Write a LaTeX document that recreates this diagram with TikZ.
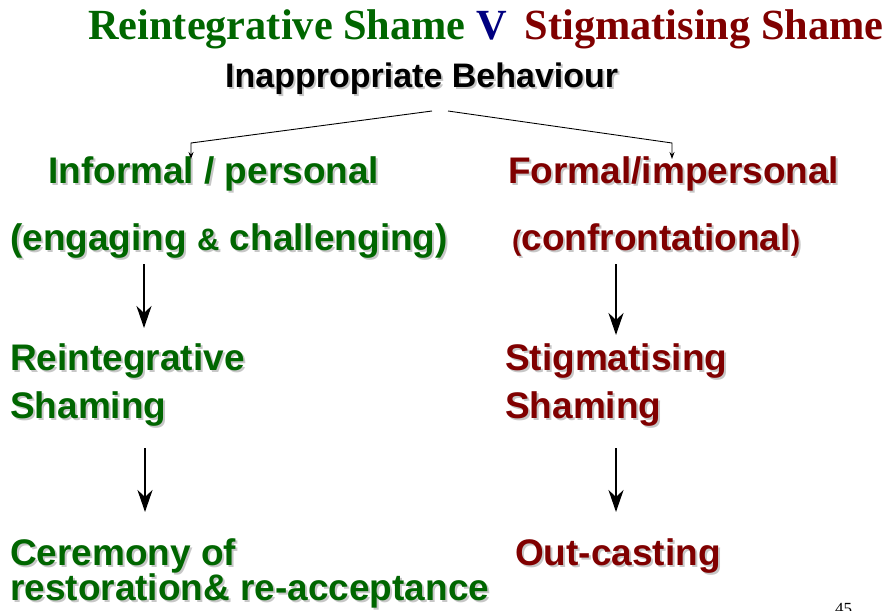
\documentclass[tikz,border=0pt]{standalone}
\usepackage{fontspec}
\setmainfont{Liberation Sans}
\newfontfamily\serifttl{Liberation Serif}
\usetikzlibrary{arrows.meta}
\definecolor{grn}{RGB}{0,102,0}
\definecolor{dred}{RGB}{128,0,0}
\definecolor{nvy}{RGB}{0,0,128}
\newcommand{\shd}[1]{\makebox[0pt][l]{\color{black!22}\hspace{2pt}\raisebox{-2pt}{#1}}#1}
\newcommand{\sq}[1]{\shd{#1}}
\newcommand{\amp}{{\fontsize{31}{34}\selectfont\&}}
\begin{document}
\begin{tikzpicture}[x=1pt,y=-1pt,
  lbl/.style={anchor=base west, inner sep=0pt, font=\bfseries\fontsize{37}{40}\selectfont},
  gtxt/.style={lbl, text=grn},
  rtxt/.style={lbl, text=dred},
  thin arrow/.style={line width=0.9pt, -{Stealth[length=7pt,width=5pt]}},
  big arrow/.style={line width=2.6pt, -{Stealth[length=22pt,width=15pt,inset=7pt]}}]
\useasboundingbox (0,0) rectangle (888,610);
\fill[white] (0,0) rectangle (888,610);
% title
\node[anchor=base west, inner sep=0pt, font=\serifttl\bfseries\fontsize{43}{46}\selectfont] (title) at (88,40)
  {\scalebox{0.985}[1]{\textcolor{grn}{Reintegrative Shame} \textcolor{nvy}{V}\, \textcolor{dred}{Stigmatising Shame}}};
\node[lbl, font=\bfseries\fontsize{34}{36}\selectfont, text=black] (inap) at (225,87) {\sq{Inappropriate Behaviour}};
% level 1
\node[gtxt] (inf) at (48,183) {\sq{Informal / personal}};
\node[rtxt] (form) at (508,183) {\sq{Formal/impersonal}};
\node[gtxt] (eng) at (10,250) {\sq{(engaging \amp\ challenging)}};
\node[rtxt] (conf) at (512,250) {\sq{{\fontsize{28}{30}\selectfont(}confrontational{\fontsize{28}{30}\selectfont)}}};
% level 2
\node[gtxt] (rei1) at (10,370) {\sq{Reintegrative}};
\node[gtxt] (rei2) at (10,418) {\sq{Shaming}};
\node[rtxt] (sti1) at (505,370) {\sq{Stigmatising}};
\node[rtxt] (sti2) at (505,418) {\sq{Shaming}};
% level 3
\node[gtxt] (cer1) at (10,565) {\sq{Ceremony of}};
\node[gtxt] (cer2) at (10,600) {\sq{restoration\& re-acceptance}};
\node[rtxt] (out) at (515,565) {\sq{Out-casting}};
\node[anchor=base west, inner sep=0pt, font=\serifttl\fontsize{17}{18}\selectfont] (pg) at (835,614) {45};
% connectors
\coordinate (splitL) at (432,111);
\coordinate (splitR) at (448,111);
\coordinate (cornL) at (191,143);
\coordinate (cornR) at (672,143);
\coordinate (infTop) at (191,159);
\coordinate (formTop) at (672,159);
\draw[thin arrow] (splitL) -- (cornL) -- (infTop);
\draw[thin arrow] (splitR) -- (cornR) -- (formTop);
\coordinate (a1s) at (144,264);
\coordinate (a1e) at (144,328);
\coordinate (a2s) at (616,264);
\coordinate (a2e) at (616,335);
\coordinate (a3s) at (145,448);
\coordinate (a3e) at (145,512);
\coordinate (a4s) at (616,448);
\coordinate (a4e) at (616,512);
\draw[big arrow] (a1s) -- (a1e);
\draw[big arrow] (a2s) -- (a2e);
\draw[big arrow] (a3s) -- (a3e);
\draw[big arrow] (a4s) -- (a4e);
\end{tikzpicture}
\end{document}
